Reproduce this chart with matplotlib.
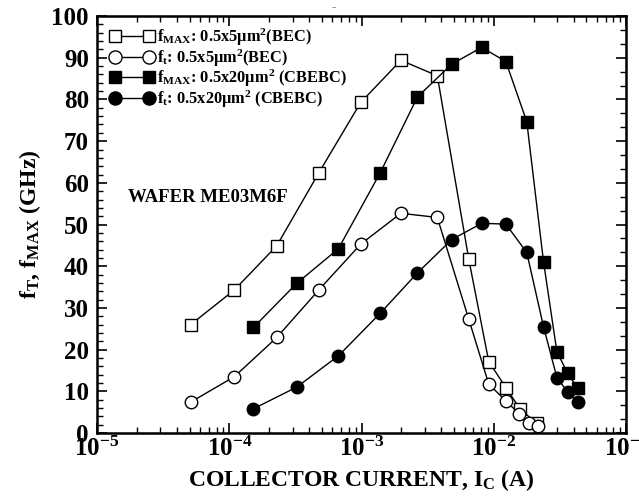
import numpy as np
import matplotlib.pyplot as plt
from matplotlib.ticker import LogLocator, MultipleLocator, NullFormatter, AutoMinorLocator

plt.rcParams['font.family'] = 'Liberation Serif'
plt.rcParams['font.weight'] = 'bold'
plt.rcParams['axes.labelweight'] = 'bold'
plt.rcParams['mathtext.fontset'] = 'custom'
plt.rcParams['mathtext.rm'] = 'Liberation Serif:bold'
plt.rcParams['mathtext.it'] = 'Liberation Serif:bold'
plt.rcParams['mathtext.bf'] = 'Liberation Serif:bold'

# BEC device 0.5x5 um^2
ic_bec = [5.1e-5, 1.09e-4, 2.28e-4, 4.74e-4, 9.84e-4, 1.98e-3, 3.73e-3,
          6.45e-3, 9.14e-3, 1.23e-2, 1.57e-2, 2.1e-2]
fmax_bec = [26.0, 34.3, 44.9, 62.4, 79.3, 89.4, 85.7, 41.7, 17.1, 10.9, 5.8, 2.3]
ic_bec_ft = [5.1e-5, 1.09e-4, 2.28e-4, 4.74e-4, 9.84e-4, 1.98e-3, 3.73e-3,
             6.45e-3, 9.14e-3, 1.23e-2, 1.56e-2, 1.83e-2, 2.14e-2]
ft_bec = [7.4, 13.5, 22.9, 34.3, 45.3, 52.7, 51.7, 27.3, 11.7, 7.7, 4.5, 2.5, 1.7]

# CBEBC device 0.5x20 um^2
ic_cbebc = [1.52e-4, 3.23e-4, 6.67e-4, 1.38e-3, 2.64e-3, 4.80e-3, 8.09e-3,
            1.23e-2, 1.77e-2, 2.37e-2, 2.99e-2, 3.61e-2, 4.30e-2]
fmax_cbebc = [25.3, 35.9, 44.2, 62.4, 80.6, 88.5, 92.5, 89.1, 74.7, 41.1, 19.5, 14.3, 10.7]
ft_cbebc = [5.8, 11.0, 18.5, 28.7, 38.4, 46.4, 50.3, 50.1, 43.3, 25.5, 13.3, 9.8, 7.5]

fig = plt.figure(figsize=(6.39, 5.04), dpi=100)
ax = fig.add_axes([0.152, 0.141, 0.828, 0.827])

ms = 8
ax.plot(ic_bec, fmax_bec, 'k-', lw=1, marker='s', ms=ms, mfc='white', mec='k', mew=1,
        label=r'f$_{\rm MAX}$: 0.5x5$\rm \mu$m$^{2}$(BEC)')
ax.plot(ic_bec_ft, ft_bec, 'k-', lw=1, marker='o', ms=ms + 1, mfc='white', mec='k', mew=1,
        label=r'f$_{\rm t}$: 0.5x5$\rm \mu$m$^{2}$(BEC)')
ax.plot(ic_cbebc, fmax_cbebc, 'k-', lw=1, marker='s', ms=ms, mfc='k', mec='k',
        label=r'f$_{\rm MAX}$: 0.5x20$\rm \mu$m$^{2}$ (CBEBC)')
ax.plot(ic_cbebc, ft_cbebc, 'k-', lw=1, marker='o', ms=ms + 1, mfc='k', mec='k',
        label=r'f$_{\rm t}$: 0.5x20$\rm \mu$m$^{2}$ (CBEBC)')

ax.set_xscale('log')
ax.set_xlim(1e-5, 1e-1)
ax.set_ylim(0, 100)
ax.yaxis.set_major_locator(MultipleLocator(10))
ax.yaxis.set_minor_locator(MultipleLocator(2))
ax.xaxis.set_minor_locator(LogLocator(base=10, subs=np.arange(2, 10)))
ax.xaxis.set_minor_formatter(NullFormatter())
ax.tick_params(which='both', direction='in', top=True, right=False, labelsize=18)
ax.tick_params(axis='x', pad=3)
ax.tick_params(axis='y', pad=6)
ax.tick_params(which='major', length=7, width=1.2)
ax.tick_params(which='minor', length=4, width=1)
for s in ax.spines.values():
    s.set_linewidth(1.8)

# right axis has fewer minor ticks
ax2 = ax.twinx()
ax2.set_ylim(0, 100)
ax2.yaxis.set_major_locator(MultipleLocator(10))
ax2.yaxis.set_minor_locator(AutoMinorLocator(3))
ax2.tick_params(which='both', direction='in', labelright=False)
ax2.tick_params(which='major', length=7, width=1.2)
ax2.tick_params(which='minor', length=4, width=1)

ax.set_xlabel(r'COLLECTOR CURRENT, I$_{\rm C}$ (A)', fontsize=17, labelpad=4)
ax.set_ylabel(r'f$_{\rm T}$, f$_{\rm MAX}$ (GHz)', fontsize=17, labelpad=6)

ax.text(10**-4.77, 56.4, 'WAFER ME03M6F', fontsize=13.5, va='center', ha='left')

ax.legend(loc='upper left', frameon=False, numpoints=2, fontsize=11.8, handlelength=2.7,
          handletextpad=0.15, borderaxespad=0.0, labelspacing=-0.05,
          bbox_to_anchor=(0.012, 0.99), markerscale=1.05)

fig.text(0.523, 0.992, '--', fontsize=6, color='0.5', ha='center', va='top')

fig.savefig('out.png', dpi=100)
